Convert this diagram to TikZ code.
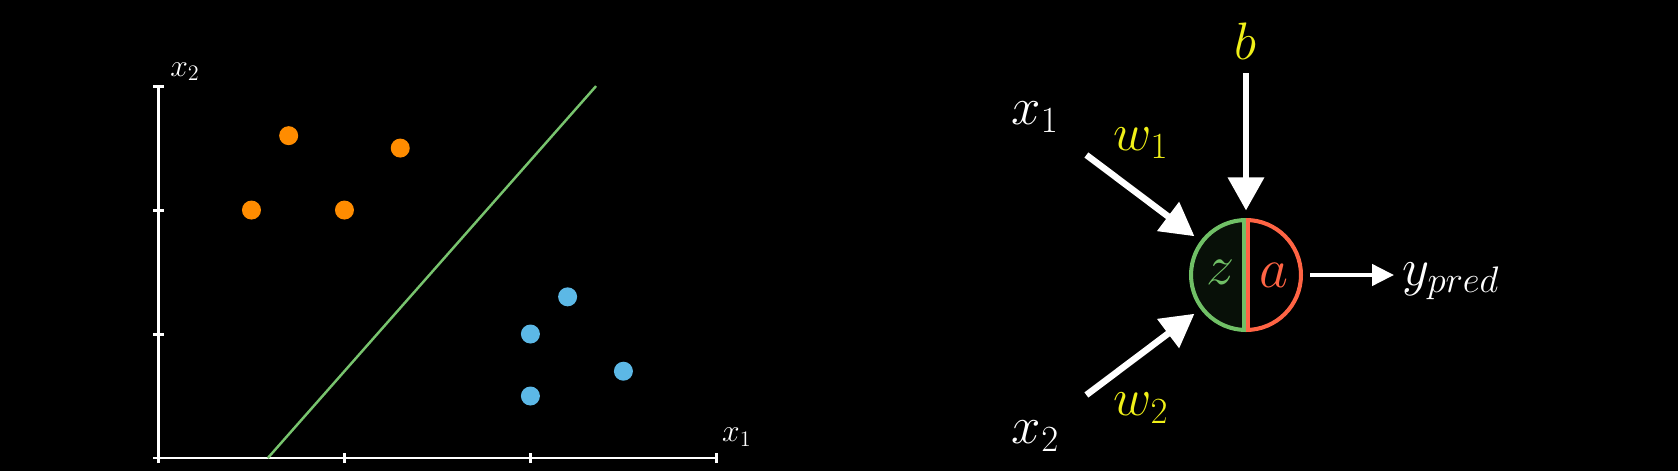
\RequirePackage{fix-cm}
\documentclass[tikz,border=0pt]{standalone}
\usepackage{amsmath}
\usepackage{tikz}
\usetikzlibrary{arrows.meta}

\definecolor{dotorange}{RGB}{255,140,0}
\definecolor{dotblue}{RGB}{92,184,230}
\definecolor{sepgreen}{RGB}{120,196,110}
\definecolor{zgreen}{RGB}{112,192,102}
\definecolor{zfill}{RGB}{8,16,8}
\definecolor{ared}{RGB}{255,100,68}
\definecolor{wyellow}{RGB}{240,240,24}

\tikzset{
  axisline/.style={white, line width=1.7pt},
  sepline/.style={sepgreen, line width=1.4pt},
  axislabel/.style={white, inner sep=0, font=\fontsize{18}{21}\selectfont},
  biglabel/.style={white, inner sep=0, font=\fontsize{30}{34}\selectfont},
  weightlabel/.style={wyellow, inner sep=0, font=\fontsize{30}{34}\selectfont},
  partlabel/.style={inner sep=0, font=\fontsize{32}{36}\selectfont},
  zline/.style={zgreen, line width=2.3pt},
  aline/.style={ared, line width=2.3pt},
  bigarrow/.style={white, line width=3.7pt, shorten >=0.19cm,
    -{Triangle[length=18.8pt, width=19.9pt]}},
  smallarrow/.style={white, line width=2.4pt, shorten <=0.19cm, shorten >=0.16cm,
    -{Triangle[length=12.5pt, width=12pt]}}
}

\begin{document}
\begin{tikzpicture}[x=0.02cm, y=0.02cm]
  \fill[black] (0,0) rectangle (1678,471);
  \useasboundingbox (0,0) rectangle (1678,471);

  % data and decision line
  \begin{scope}[shift={(158.5,13)}, x=3.72cm, y=2.48cm]
    \draw[axisline] (0,0) -- (3,0);
    \draw[axisline] (0,0) -- (0,3);
    \foreach \t in {0,1,2,3} {
      \draw[axisline] (\t,0) +(0pt,-2.9pt) -- +(0pt,2.9pt);
      \draw[axisline] (0,\t) +(-2.9pt,0pt) -- +(2.9pt,0pt);
    }
    \draw[sepline] (0.588,0) -- (2.353,3);
    \foreach \p in {(0.7,2.6),(1.3,2.5),(0.5,2),(1,2)}
      \fill[dotorange] \p circle (0.19cm);
    \foreach \p in {(2.2,1.3),(2,1),(2.5,0.7),(2,0.5)}
      \fill[dotblue] \p circle (0.19cm);
    \node[axislabel] (xaxis) at (3.11,0.17) {$x_1$};
    \node[axislabel] (yaxis) at (0.142,3.115) {$x_2$};
  \end{scope}

  % neuron
  \node[circle, minimum size=2.2cm, inner sep=0, outer sep=0] (neuron) at (1246,196) {};
  \fill[zfill] (neuron.north) arc[start angle=90, end angle=270, radius=1.1cm] -- cycle;
  \draw[zline] (neuron.north) arc[start angle=90, end angle=270, radius=1.1cm];
  \draw[aline] (neuron.north) arc[start angle=90, end angle=-90, radius=1.1cm];
  \draw[zline] ([xshift=-1.1pt]neuron.north) -- ([xshift=-1.1pt]neuron.south);
  \draw[aline] ([xshift=1.1pt]neuron.north) -- ([xshift=1.1pt]neuron.south);
  \node[partlabel, zgreen] (zpart) at (1221,198.5) {$z$};
  \node[partlabel, ared] (apart) at (1273.5,196) {$a$};

  \node[biglabel] (xa) at (1035,353.5) {$x_1$};
  \node[biglabel] (xb) at (1035.5,35) {$x_2$};
  \node[weightlabel] (wa) at (1141,328) {$w_1$};
  \node[weightlabel] (wb) at (1141,63) {$w_2$};
  \node[weightlabel] (bias) at (1245,429.5) {$b$};
  \node[biglabel, anchor=base west] (ypred) at (1402,186) {$y_{pred}$};

  \coordinate (ina) at (1086.4,316);
  \coordinate (inb) at (1086.4,76);
  \coordinate (inbias) at (1246,398);
  \draw[bigarrow] (ina) -- (neuron);
  \draw[bigarrow] (inb) -- (neuron);
  \draw[bigarrow] (inbias) -- (neuron);
  \draw[smallarrow] (neuron) -- (ypred.west |- neuron.center);
\end{tikzpicture}
\end{document}
